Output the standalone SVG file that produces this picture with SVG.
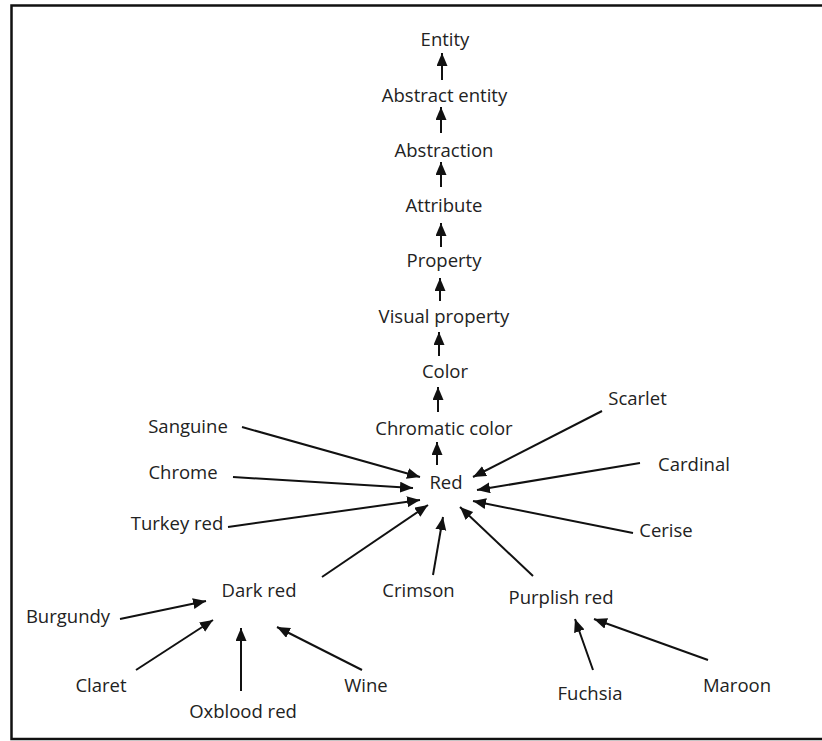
<svg xmlns="http://www.w3.org/2000/svg" width="822" height="741" viewBox="0 0 822 741">
  <style>
    .lbl { font-family: "Open Sans", "Liberation Sans", sans-serif; font-size: 18.5px; fill: #222; text-anchor: middle; }
    .edge { stroke: #111; stroke-width: 2; fill: none; marker-end: url(#head); }
    .frame { fill: none; stroke: #111; stroke-width: 2.5; }
  </style>
  <defs>
    <marker id="head" markerUnits="userSpaceOnUse" markerWidth="15" markerHeight="12" refX="13" refY="5.5" orient="auto">
      <path d="M0,0 L13,5.5 L0,11 Z" fill="#111"/>
    </marker>
  </defs>

  <rect width="822" height="741" fill="#fff"/>
  <rect class="frame" x="11.5" y="5.5" width="840" height="733.5"/>

  <!-- connectors: child points to parent -->
  <g id="connectors">
    <!-- hypernym chain -->
    <line class="edge" x1="442" y1="80" x2="442" y2="53"/>
    <line class="edge" x1="441" y1="133" x2="441" y2="107"/>
    <line class="edge" x1="441" y1="187" x2="441" y2="162"/>
    <line class="edge" x1="441" y1="247" x2="441" y2="223"/>
    <line class="edge" x1="440" y1="301" x2="440" y2="278"/>
    <line class="edge" x1="439" y1="356" x2="439" y2="332"/>
    <line class="edge" x1="438" y1="412" x2="438" y2="387"/>
    <line class="edge" x1="437" y1="465" x2="437" y2="442"/>
    <!-- shades of red -->
    <line class="edge" x1="242" y1="427" x2="420" y2="477"/>
    <line class="edge" x1="233" y1="477" x2="413" y2="488"/>
    <line class="edge" x1="228" y1="527" x2="420" y2="500"/>
    <line class="edge" x1="322" y1="577" x2="428" y2="505"/>
    <line class="edge" x1="433" y1="575" x2="443" y2="517"/>
    <line class="edge" x1="533" y1="576" x2="460" y2="507"/>
    <line class="edge" x1="602" y1="411" x2="473" y2="477"/>
    <line class="edge" x1="640" y1="463" x2="477" y2="490"/>
    <line class="edge" x1="633" y1="533" x2="473" y2="501"/>
    <!-- shades of dark red -->
    <line class="edge" x1="120" y1="619" x2="206" y2="601"/>
    <line class="edge" x1="136" y1="670" x2="213" y2="620"/>
    <line class="edge" x1="241" y1="691" x2="241" y2="628"/>
    <line class="edge" x1="362" y1="670" x2="277" y2="627"/>
    <!-- shades of purplish red -->
    <line class="edge" x1="593" y1="670" x2="575" y2="619"/>
    <line class="edge" x1="708" y1="660" x2="594" y2="619"/>
  </g>

  <g id="entity"><text class="lbl" x="445" y="46">Entity</text></g>
  <g id="abstract-entity"><text class="lbl" x="444.5" y="102">Abstract entity</text></g>
  <g id="abstraction"><text class="lbl" x="444" y="157">Abstraction</text></g>
  <g id="attribute"><text class="lbl" x="444" y="212">Attribute</text></g>
  <g id="property"><text class="lbl" x="444" y="267">Property</text></g>
  <g id="visual-property"><text class="lbl" x="444" y="323">Visual property</text></g>
  <g id="color"><text class="lbl" x="445" y="378">Color</text></g>
  <g id="chromatic-color"><text class="lbl" x="444" y="435">Chromatic color</text></g>
  <g id="red"><text class="lbl" x="446" y="489">Red</text></g>

  <g id="sanguine"><text class="lbl" x="188" y="433">Sanguine</text></g>
  <g id="chrome"><text class="lbl" x="183" y="479">Chrome</text></g>
  <g id="turkey-red"><text class="lbl" x="177" y="530">Turkey red</text></g>
  <g id="scarlet"><text class="lbl" x="637.5" y="405">Scarlet</text></g>
  <g id="cardinal"><text class="lbl" x="694" y="471">Cardinal</text></g>
  <g id="cerise"><text class="lbl" x="666" y="537">Cerise</text></g>
  <g id="crimson"><text class="lbl" x="418.5" y="597">Crimson</text></g>

  <g id="dark-red"><text class="lbl" x="259" y="597">Dark red</text></g>
  <g id="burgundy"><text class="lbl" x="68" y="623">Burgundy</text></g>
  <g id="claret"><text class="lbl" x="101" y="692">Claret</text></g>
  <g id="oxblood-red"><text class="lbl" x="243" y="718">Oxblood red</text></g>
  <g id="wine"><text class="lbl" x="366" y="692">Wine</text></g>

  <g id="purplish-red"><text class="lbl" x="561" y="604">Purplish red</text></g>
  <g id="fuchsia"><text class="lbl" x="590" y="700">Fuchsia</text></g>
  <g id="maroon"><text class="lbl" x="737" y="692">Maroon</text></g>
</svg>
